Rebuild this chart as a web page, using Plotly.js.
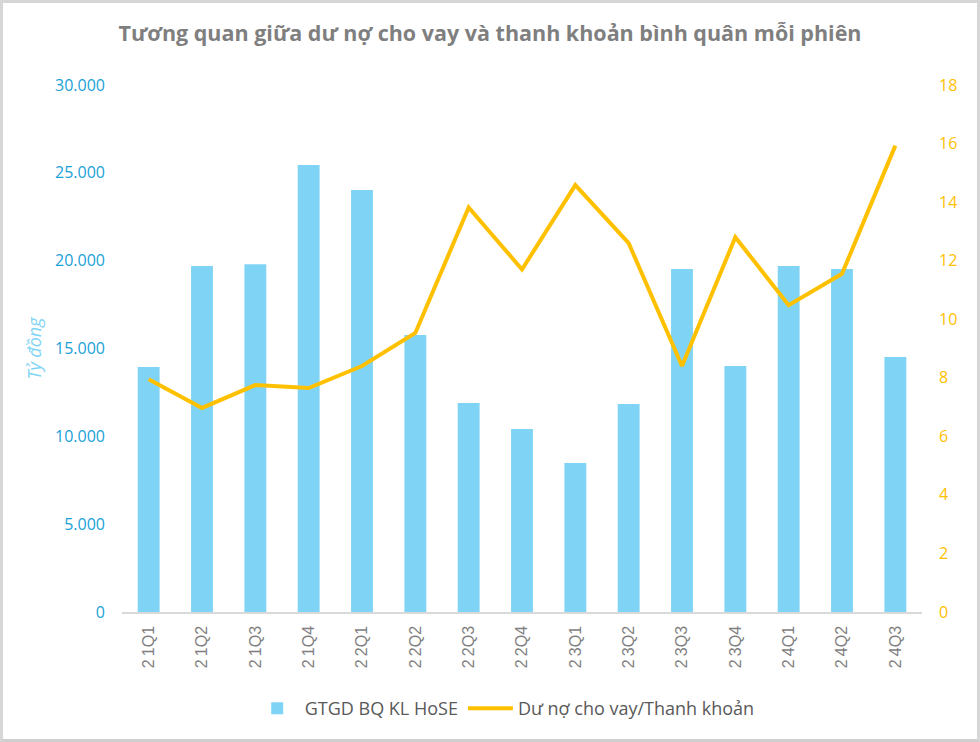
<!DOCTYPE html>
<html lang="vi">
<head>
  <meta charset="UTF-8">
  <title>Tương quan giữa dư nợ cho vay và thanh khoản</title>
  <script src="https://cdn.plot.ly/plotly-3.0.1.min.js" charset="utf-8"></script>
  <style>
    html, body { margin: 0; padding: 0; background: #fff; }
    #frame {
      width: 974px; height: 736px;
      border: 3px solid #d6d6d6;
      border-bottom-color: #cfcfcf;
      position: relative; overflow: hidden;
    }
    #chart { position: absolute; left: -3px; top: -3px; width: 980px; height: 742px; }
  </style>
</head>
<body>
  <div id="frame"><div id="chart"></div></div>
  <script>
    // quarters on the x axis
    const quarters = ["21Q1", "21Q2", "21Q3", "21Q4", "22Q1", "22Q2", "22Q3", "22Q4",
                      "23Q1", "23Q2", "23Q3", "23Q4", "24Q1", "24Q2", "24Q3"];
    // average matched trading value on HoSE, billion VND (left axis)
    const tradingValue = [13950, 19700, 19800, 25450, 24020, 15770, 11900, 10420,
                          8480, 11840, 19530, 14000, 19700, 19530, 14520];
    // margin lending / liquidity ratio (right axis)
    const loanRatio = [7.95, 6.97, 7.75, 7.65, 8.4, 9.53, 13.82, 11.7,
                       14.58, 12.6, 8.4, 12.8, 10.48, 11.55, 15.93];

    const leftTicks = [0, 5000, 10000, 15000, 20000, 25000, 30000];
    const leftLabels = ["0", "5.000", "10.000", "15.000", "20.000", "25.000", "30.000"];
    const rightTicks = [0, 2, 4, 6, 8, 10, 12, 14, 16, 18];

    // spaced-out tick text like the original
    const tickText = quarters.map(q => q.charAt(0) + "\u2009" + q.slice(1));

    const bars = {
      x: quarters, y: tradingValue,
      name: "GTGD BQ KL HoSE",
      type: "bar",
      marker: { color: "#7fd4f5" }
    };

    const line = {
      x: quarters, y: loanRatio,
      name: "Dư nợ cho vay/Thanh khoản",
      type: "scatter", mode: "lines",
      yaxis: "y2",
      line: { color: "#ffc000", width: 4 }
    };

    const layout = {
      width: 980, height: 742,
      margin: { l: 122, r: 58, t: 85, b: 130, autoexpand: false },
      paper_bgcolor: "rgba(0,0,0,0)",
      plot_bgcolor: "rgba(0,0,0,0)",
      font: { family: "Open Sans, sans-serif" },
      title: {
        text: "<b>Tương quan giữa dư nợ cho vay và thanh khoản bình quân mỗi phiên</b>",
        font: { size: 21.5, color: "#7f7f7f", family: "Open Sans, sans-serif" },
        x: 0.5, xanchor: "center", y: 0.955, yanchor: "middle"
      },
      bargap: 0.59,
      showlegend: true,
      legend: {
        orientation: "h",
        xref: "container", yref: "container",
        x: 0.515, xanchor: "center", y: 0.045, yanchor: "middle",
        font: { size: 18, color: "#595959" },
        itemwidth: 45,
        traceorder: "normal"
      },
      xaxis: {
        type: "category",
        tickvals: quarters, ticktext: tickText,
        tickangle: -90,
        tickfont: { size: 16, color: "#7f7f7f", family: "Liberation Sans, sans-serif" },
        showline: true, linecolor: "#d9d9d9", linewidth: 1.5,
        ticks: "", showgrid: false, zeroline: false,
        ticklabelstandoff: 6
      },
      yaxis: {
        range: [0, 30000],
        tickvals: leftTicks, ticktext: leftLabels,
        tickfont: { size: 16, color: "#1a9fd8" },
        showgrid: false, zeroline: false, showline: false,
        ticklabelstandoff: 16,
        title: {
          text: "<i>Tỷ đồng</i>",
          font: { size: 18, color: "#7fd4f5" },
          standoff: 8
        }
      },
      yaxis2: {
        overlaying: "y", side: "right",
        range: [0, 18],
        tickvals: rightTicks,
        tickfont: { size: 16, color: "#ffc000" },
        showgrid: false, zeroline: false, showline: false,
        ticklabelstandoff: 16
      }
    };

    Plotly.newPlot("chart", [bars, line], layout, { displayModeBar: false, staticPlot: true });
  </script>
</body>
</html>
